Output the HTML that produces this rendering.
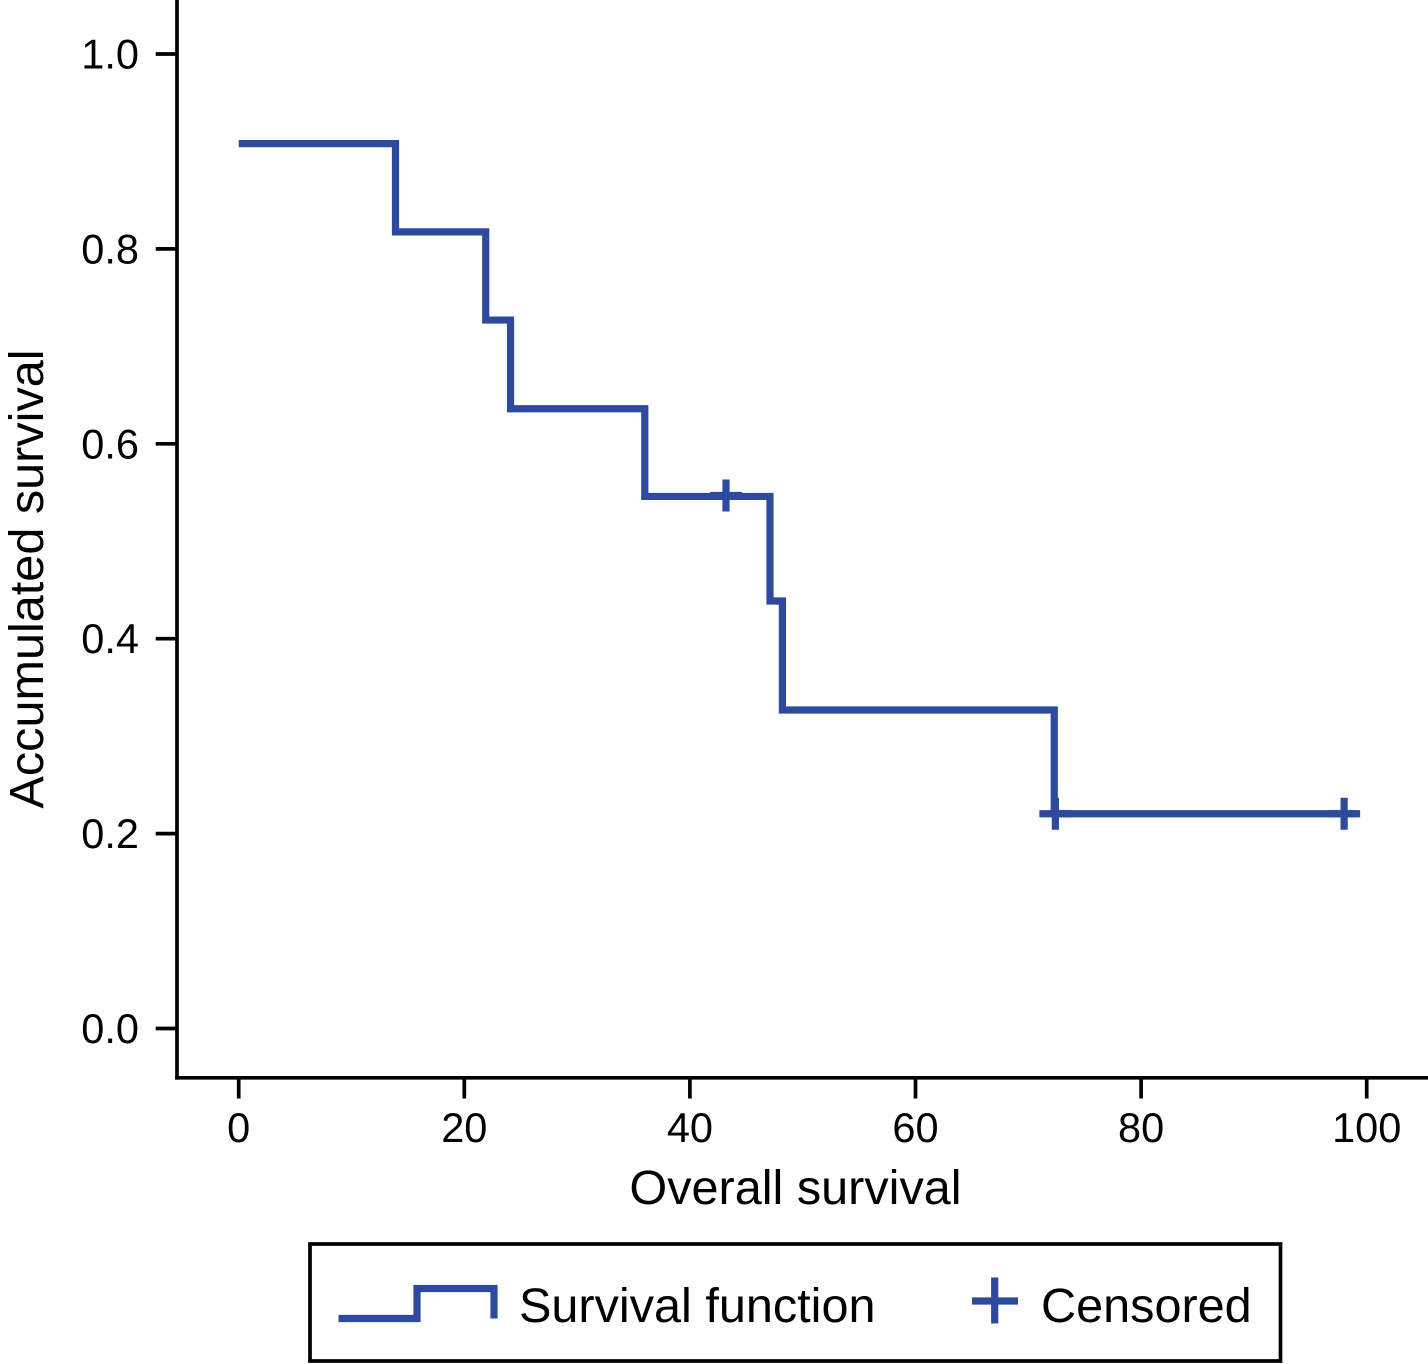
<!DOCTYPE html>
<html>
<head>
<meta charset="utf-8">
<style>
html,body{margin:0;padding:0;background:#fff;}
svg{display:block;}
text{font-family:"Liberation Sans",sans-serif;fill:#000;}
</style>
</head>
<body>
<svg id="chart" width="1428" height="1364" viewBox="0 0 1428 1364" xmlns="http://www.w3.org/2000/svg"></svg>
<script>
var xTicks = [0, 20, 40, 60, 80, 100];
var yTicks = [0.0, 0.2, 0.4, 0.6, 0.8, 1.0];
var stepTimes = [0, 13.9, 21.9, 24.1, 36.0, 47.1, 48.2, 72.3, 99.0];
var stepSurvival = [0.908, 0.8175, 0.727, 0.636, 0.546, 0.4387, 0.3268, 0.2204, 0.2204];
var censorTimes = [43.2, 72.4, 98.0];
var censorSurvival = [0.547, 0.2204, 0.2204];
var xAxisTitle = 'Overall survival';
var yAxisTitle = 'Accumulated survival';
var legendLineLabel = 'Survival function';
var legendCensorLabel = 'Censored';

var NS = 'http://www.w3.org/2000/svg';
var svg = document.getElementById('chart');
var BLUE = '#2e4a9e';
var INK = '#000';
function xs(v){ return 238.7 + v * 11.28; }
function ys(v){ return 1028.5 - v * 974.5; }
function add(tag, attrs, parent){
  var e = document.createElementNS(NS, tag);
  for (var k in attrs) e.setAttribute(k, attrs[k]);
  (parent || svg).appendChild(e);
  return e;
}

var xAxis = add('g', {});


var yAxis = add('g', {});



var xLine = add('line', {x1:175.2, y1:1077.8, x2:1428, y2:1077.8, stroke:INK, 'stroke-width':3.7}, xAxis);


var yLine = add('line', {x1:177, y1:0, x2:177, y2:1079.6, stroke:INK, 'stroke-width':3.7}, yAxis);



xTicks.forEach(function(t){
  var tick = add('line', {x1:xs(t), y1:1078, x2:xs(t), y2:1098.5, stroke:INK, 'stroke-width':3.7}, xAxis);
  
  
  var lab = add('text', {x:xs(t), y:1141.8, 'font-size':41.5, 'text-anchor':'middle'}, xAxis);
  
  
  lab.textContent = String(t);
});
yTicks.forEach(function(t){
  var tick = add('line', {x1:155.7, y1:ys(t), x2:177, y2:ys(t), stroke:INK, 'stroke-width':3.7}, yAxis);
  
  
  var lab = add('text', {x:139, y:ys(t)+14.5, 'font-size':41.5, 'text-anchor':'end'}, yAxis);
  
  
  lab.textContent = t.toFixed(1);
});

var xTitle = add('text', {x:795.5, y:1204, 'font-size':48.6, 'text-anchor':'middle'});


xTitle.textContent = xAxisTitle;
var yTitle = add('text', {x:0, y:0, 'font-size':48.6, 'text-anchor':'middle', transform:'translate(43 579) rotate(-90)'});


yTitle.textContent = yAxisTitle;

var d = '';
for (var i = 0; i < stepTimes.length; i++){
  if (i === 0) d += 'M' + xs(stepTimes[0]) + ' ' + ys(stepSurvival[0]);
  else {
    d += ' H' + xs(stepTimes[i]);
    d += ' V' + ys(stepSurvival[i]);
  }
}
var curve = add('path', {d:d, fill:'none', stroke:BLUE, 'stroke-width':7.2, 'stroke-linejoin':'miter'});



censorTimes.forEach(function(t, i){
  var cx = xs(t), cy = ys(censorSurvival[i]);
  var c = add('path', {d:'M'+(cx-16)+' '+cy+' H'+(cx+16)+' M'+cx+' '+(cy-16)+' V'+(cy+16), fill:'none', stroke:BLUE, 'stroke-width':7.2});
  
  
});

var legend = add('g', {});


var box = add('rect', {x:310, y:1244, width:970.5, height:117, fill:'#fff', stroke:INK, 'stroke-width':3.7}, legend);


var swatch = add('path', {d:'M338.5 1318.5 H417 V1288.5 H494 V1318.5', fill:'none', stroke:BLUE, 'stroke-width':7.2}, legend);


var lab1 = add('text', {x:519, y:1322, 'font-size':48.6}, legend);


lab1.textContent = legendLineLabel;
var cSwatch = add('path', {d:'M972 1301 H1018 M994.7 1277.5 V1323.5', fill:'none', stroke:BLUE, 'stroke-width':7.2}, legend);


var lab2 = add('text', {x:1041, y:1322, 'font-size':48.6}, legend);


lab2.textContent = legendCensorLabel;
</script>
</body>
</html>
